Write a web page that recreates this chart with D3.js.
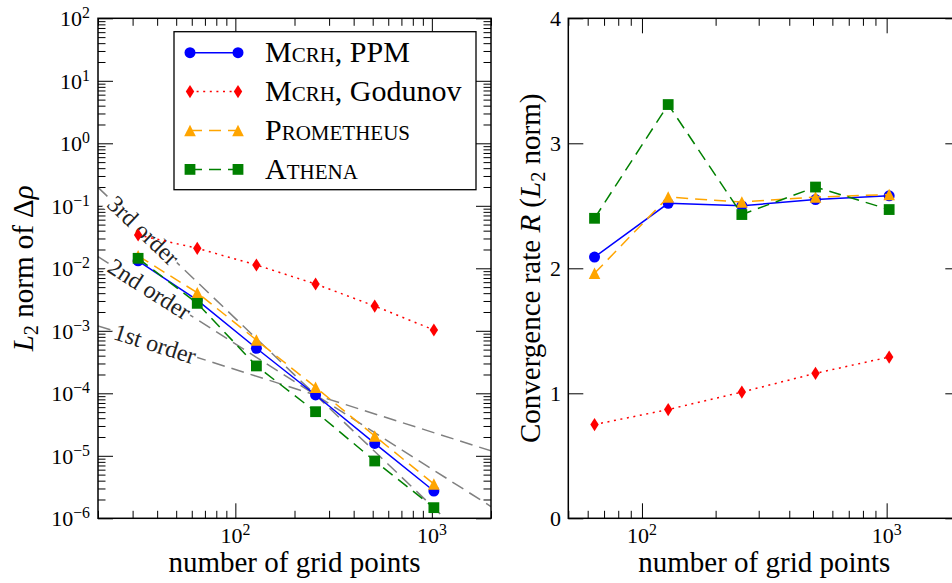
<!DOCTYPE html>
<html lang="en">

<head>
  <meta charset="UTF-8">
  <title>Convergence</title>
  <style>
    html,
    body {
      margin: 0;
      background: #fff;
    }

    svg {
      display: block;
      font-family: 'Liberation Serif', serif;
    }
  </style>
</head>

<body>
  <svg id="chart" width="952" height="583"></svg>
  <script src="https://cdn.jsdelivr.net/npm/d3@7"></script>
  <script>
    // grid sizes
    var gridErr = [32, 64, 128, 256, 512, 1024]
    var gridRate = [64, 128, 256, 512, 1024]

    // L2 norm of density error
    var ppmErr = [0.0132, 0.0031, 5.25e-4, 9.4e-5, 1.58e-5, 2.73e-6]
    var godErr = [0.0341, 0.0209, 0.0113, 0.00561, 0.00249, 0.00103]
    var promErr = [0.0158, 0.00407, 7.13e-4, 1.25e-4, 2.07e-5, 3.54e-6]
    var athErr = [0.01445, 0.00275, 2.74e-4, 5.08e-5, 8.26e-6, 1.48e-6]

    // convergence rate R
    var ppmRate = [2.09, 2.52, 2.50, 2.55, 2.58]
    var godRate = [0.75, 0.87, 1.01, 1.16, 1.29]
    var promRate = [1.96, 2.57, 2.53, 2.57, 2.59]
    var athRate = [2.40, 3.31, 2.43, 2.65, 2.47]

    var seriesNames = ['Mcrh, PPM', 'Mcrh, Godunov', 'Prometheus', 'Athena']

    // reference slopes, values at the two ends of the x range
    var refGrid = [20, 2000]
    var refNames = ['1st order', '2nd order', '3rd order']
    var refErr = [[1.2e-3, 1.2e-5], [1.54e-2, 1.54e-6], [1.97e-1, 1.97e-7]]
    var refLabelAt = [39, 36.5, 34]

    var errExp = [-6, -5, -4, -3, -2, -1, 0, 1, 2]
    var rateTicks = [0, 1, 2, 3, 4]
    var gridExp = [2, 3]

    var styles = [
      { color: '#0000ff', dash: null, marker: 'circle' },
      { color: '#ff0000', dash: '2,4.6', marker: 'diamond' },
      { color: '#ffa500', dash: '12,7', marker: 'triangle' },
      { color: '#008000', dash: '12,7', marker: 'square' }
    ]

    var svg = d3.select('#chart')

    var L = { x0: 98, x1: 491, y0: 18.3, y1: 518.3 }
    var R = { x0: 568.3, x1: 960.3, y0: 18.3, y1: 518.3 }

    var xL = d3.scaleLog().domain([20, 2000]).range([L.x0, L.x1])
    var yL = d3.scaleLog().domain([1e-6, 1e2]).range([L.y1, L.y0])
    var xR = d3.scaleLog().domain([50, 2000]).range([R.x0, R.x1])
    var yR = d3.scaleLinear().domain([0, 4]).range([R.y1, R.y0])

    function markerPath(type) {
      if (type === 'circle') return d3.symbol(d3.symbolCircle, Math.PI * 5.5 * 5.5)()
      if (type === 'square') return 'M-5.4,-5.4H5.4V5.4H-5.4Z'
      if (type === 'triangle') return 'M0,-5.8L5.8,5.8L-5.8,5.8Z'
      return 'M0,-6.6L4.2,0L0,6.6L-4.2,0Z'
    }

    function isMajor(v) {
      var l = Math.log10(v)
      return Math.abs(l - Math.round(l)) < 1e-9
    }

    function ticks(g, axis, scale, values, size, pos) {
      g.append('g')
        .attr('transform', pos)
        .call(axis(scale).tickValues(values).tickSize(-size).tickFormat(''))
        .call(s => s.select('.domain').remove())
        .selectAll('line').attr('stroke-width', 1)
    }

    function powLabel(sel, exp) {
      sel.append('tspan').text('10')
      sel.append('tspan')
        .attr('dy', '-0.5em')
        .attr('font-size', '0.72em')
        .text(exp < 0 ? '\u2212' + (-exp) : exp)
    }

    // ---------- left panel ----------
    var gl = svg.append('g')
    gl.append('clipPath').attr('id', 'clipL')
      .append('rect')
      .attr('x', L.x0).attr('y', L.y0)
      .attr('width', L.x1 - L.x0).attr('height', L.y1 - L.y0)

    var xTicksL = xL.ticks()
    var yTicksL = yL.ticks()
    ticks(gl, d3.axisBottom, xL, xTicksL.filter(d => !isMajor(d)), 7.5, `translate(0,${L.y1})`)
    ticks(gl, d3.axisBottom, xL, xTicksL.filter(isMajor), 15, `translate(0,${L.y1})`)
    ticks(gl, d3.axisTop, xL, xTicksL.filter(d => !isMajor(d)), 7.5, `translate(0,${L.y0})`)
    ticks(gl, d3.axisTop, xL, xTicksL.filter(isMajor), 15, `translate(0,${L.y0})`)
    ticks(gl, d3.axisLeft, yL, yTicksL.filter(d => !isMajor(d)), 7.5, `translate(${L.x0},0)`)
    ticks(gl, d3.axisLeft, yL, yTicksL.filter(isMajor), 15, `translate(${L.x0},0)`)
    ticks(gl, d3.axisRight, yL, yTicksL.filter(d => !isMajor(d)), 7.5, `translate(${L.x1},0)`)
    ticks(gl, d3.axisRight, yL, yTicksL.filter(isMajor), 15, `translate(${L.x1},0)`)

    // reference order lines
    var refG = gl.append('g').attr('clip-path', 'url(#clipL)')
    var refLine = d3.line().x(d => xL(d[0])).y(d => yL(d[1]))
    refErr.forEach(function (r, i) {
      var pts = refGrid.map((n, j) => [n, r[j]])
      refG.append('path')
        .attr('d', refLine(pts))
        .attr('fill', 'none')
        .attr('stroke', '#808080')
        .attr('stroke-width', 1.5)
        .attr('stroke-dasharray', '13,7')
    })
    refErr.forEach(function (r, i) {
      var ang = Math.atan2(yL(r[1]) - yL(r[0]), xL(refGrid[1]) - xL(refGrid[0])) * 180 / Math.PI
      var t = (Math.log(refLabelAt[i]) - Math.log(refGrid[0])) / (Math.log(refGrid[1]) - Math.log(refGrid[0]))
      var ly = Math.exp(Math.log(r[0]) + t * (Math.log(r[1]) - Math.log(r[0])))
      var lg = refG.append('g')
        .attr('transform', `translate(${xL(refLabelAt[i])},${yL(ly)}) rotate(${ang})`)
      var txt = lg.append('text')
        .attr('text-anchor', 'middle')
        .attr('dy', '0.33em')
        .attr('font-size', 24)
        .attr('fill', '#222')
        .text(refNames[i])
      var bb = txt.node().getBBox()
      lg.insert('rect', 'text')
        .attr('x', bb.x - 2).attr('y', bb.y + 2)
        .attr('width', bb.width + 4).attr('height', bb.height - 4)
        .attr('fill', '#fff')
    })

    // data series
    var errSeries = [ppmErr, godErr, promErr, athErr]
    var lineL = d3.line().x(d => xL(d[0])).y(d => yL(d[1]))
    errSeries.forEach(function (vals, i) {
      var st = styles[i]
      var pts = gridErr.map((n, j) => [n, vals[j]])
      gl.append('path')
        .attr('d', lineL(pts))
        .attr('fill', 'none')
        .attr('stroke', st.color)
        .attr('stroke-width', 1.5)
        .attr('stroke-dasharray', st.dash)
      gl.append('g').selectAll('path')
        .data(pts)
        .join('path')
        .attr('transform', d => `translate(${xL(d[0])},${yL(d[1])})`)
        .attr('d', markerPath(st.marker))
        .attr('fill', st.color)
    })

    gl.append('rect')
      .attr('x', L.x0).attr('y', L.y0)
      .attr('width', L.x1 - L.x0).attr('height', L.y1 - L.y0)
      .attr('fill', 'none').attr('stroke', '#000').attr('stroke-width', 1.5)

    // tick labels
    gl.append('g').selectAll('text')
      .data(gridExp)
      .join('text')
      .attr('x', d => xL(Math.pow(10, d)))
      .attr('y', 543)
      .attr('text-anchor', 'middle')
      .attr('font-size', 22)
      .each(function (d) { powLabel(d3.select(this), d) })
    gl.append('g').selectAll('text')
      .data(errExp)
      .join('text')
      .attr('x', 90)
      .attr('y', d => yL(Math.pow(10, d)) + 8)
      .attr('text-anchor', 'end')
      .attr('font-size', 22)
      .each(function (d) { powLabel(d3.select(this), d) })

    gl.append('text')
      .attr('x', (L.x0 + L.x1) / 2).attr('y', 572)
      .attr('text-anchor', 'middle')
      .attr('font-size', 29)
      .text('number of grid points')

    var yt = gl.append('text')
      .attr('transform', `translate(33,${(L.y0 + L.y1) / 2}) rotate(-90)`)
      .attr('text-anchor', 'middle')
      .attr('font-size', 29)
    yt.append('tspan').attr('font-style', 'italic').text('L')
    yt.append('tspan').attr('dy', '0.25em').attr('font-size', '0.7em').text('2')
    yt.append('tspan').attr('dy', '-0.175em').text(' norm of \u0394')
    yt.append('tspan').attr('font-style', 'italic').text('\u03c1')

    // legend
    var leg = gl.append('g')
    leg.append('rect')
      .attr('x', 174).attr('y', 31.7)
      .attr('width', 302).attr('height', 158)
      .attr('fill', '#fff').attr('stroke', '#000').attr('stroke-width', 1.3)
    seriesNames.forEach(function (name, i) {
      var st = styles[i]
      var y = 52.7 + i * 38.9
      leg.append('line')
        .attr('x1', 190).attr('x2', 238).attr('y1', y).attr('y2', y)
        .attr('stroke', st.color).attr('stroke-width', 1.5)
        .attr('stroke-dasharray', st.dash)
      ;[190, 238].forEach(function (x) {
        leg.append('path')
          .attr('transform', `translate(${x},${y})`)
          .attr('d', markerPath(st.marker))
          .attr('fill', st.color)
      })
      var parts = name.split(', ')
      var t = leg.append('text')
        .attr('x', 265).attr('y', y + 9.5)
        .attr('font-size', 30)
      t.append('tspan').style('font-variant', 'small-caps').text(parts[0])
      if (parts[1]) t.append('tspan').text(', ' + parts[1])
    })

    // ---------- right panel ----------
    var gr = svg.append('g')
    var xTicksR = xR.ticks()
    ticks(gr, d3.axisBottom, xR, xTicksR.filter(d => !isMajor(d)), 7.5, `translate(0,${R.y1})`)
    ticks(gr, d3.axisBottom, xR, xTicksR.filter(isMajor), 15, `translate(0,${R.y1})`)
    ticks(gr, d3.axisTop, xR, xTicksR.filter(d => !isMajor(d)), 7.5, `translate(0,${R.y0})`)
    ticks(gr, d3.axisTop, xR, xTicksR.filter(isMajor), 15, `translate(0,${R.y0})`)
    ticks(gr, d3.axisLeft, yR, rateTicks, 15, `translate(${R.x0},0)`)
    ticks(gr, d3.axisRight, yR, rateTicks, 15, `translate(${R.x1},0)`)

    var rateSeries = [ppmRate, godRate, promRate, athRate]
    var lineR = d3.line().x(d => xR(d[0])).y(d => yR(d[1]))
    rateSeries.forEach(function (vals, i) {
      var st = styles[i]
      var pts = gridRate.map((n, j) => [n, vals[j]])
      gr.append('path')
        .attr('d', lineR(pts))
        .attr('fill', 'none')
        .attr('stroke', st.color)
        .attr('stroke-width', 1.5)
        .attr('stroke-dasharray', st.dash)
      gr.append('g').selectAll('path')
        .data(pts)
        .join('path')
        .attr('transform', d => `translate(${xR(d[0])},${yR(d[1])})`)
        .attr('d', markerPath(st.marker))
        .attr('fill', st.color)
    })

    gr.append('rect')
      .attr('x', R.x0).attr('y', R.y0)
      .attr('width', R.x1 - R.x0).attr('height', R.y1 - R.y0)
      .attr('fill', 'none').attr('stroke', '#000').attr('stroke-width', 1.5)

    gr.append('g').selectAll('text')
      .data(gridExp)
      .join('text')
      .attr('x', d => xR(Math.pow(10, d)))
      .attr('y', 543)
      .attr('text-anchor', 'middle')
      .attr('font-size', 22)
      .each(function (d) { powLabel(d3.select(this), d) })
    gr.append('g').selectAll('text')
      .data(rateTicks)
      .join('text')
      .attr('x', 561)
      .attr('y', d => yR(d) + 7.5)
      .attr('text-anchor', 'end')
      .attr('font-size', 22)
      .text(d => d)

    gr.append('text')
      .attr('x', (R.x0 + R.x1) / 2).attr('y', 572)
      .attr('text-anchor', 'middle')
      .attr('font-size', 29)
      .text('number of grid points')

    var rt = gr.append('text')
      .attr('transform', `translate(540,${(R.y0 + R.y1) / 2}) rotate(-90)`)
      .attr('text-anchor', 'middle')
      .attr('font-size', 29)
    rt.append('tspan').text('Convergence rate ')
    rt.append('tspan').attr('font-style', 'italic').text('R')
    rt.append('tspan').text(' (')
    rt.append('tspan').attr('font-style', 'italic').text('L')
    rt.append('tspan').attr('dy', '0.25em').attr('font-size', '0.7em').text('2')
    rt.append('tspan').attr('dy', '-0.175em').text(' norm)')
  </script>
</body>

</html>
